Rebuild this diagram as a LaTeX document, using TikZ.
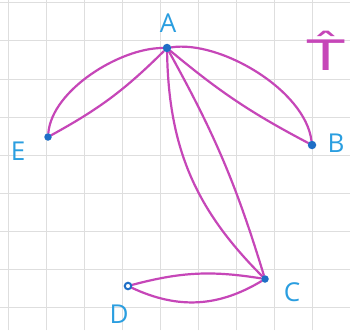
\documentclass[tikz,border=0pt]{standalone}
\usepackage{fontspec}
\setmainfont{Open Sans}
\newfontfamily\dejavu{DejaVu Sans}
\definecolor{mag}{HTML}{C646B8}
\definecolor{dotblue}{HTML}{1E6EC6}
\definecolor{labblue}{HTML}{2A9EE0}
\definecolor{gridgray}{HTML}{DEDEDE}
\pgfdeclarelayer{bg}
\pgfsetlayers{bg,main}
\begin{document}
\begin{tikzpicture}[x=1pt,y=1pt,
  edge/.style={draw=mag, line width=2.2pt, line cap=round},
  dot/.style={circle, fill=dotblue, inner sep=0pt, minimum size=8.5pt},
  lab/.style={text=labblue, font=\fontsize{26}{26}\selectfont, inner sep=0pt},
  gridline/.style={draw=gridgray, line width=1pt}]
\useasboundingbox (0,0) rectangle (350,330);
\node[dot] (A) at (167,282) {};
\node[dot, minimum size=7.5pt] (E) at (48,193) {};
\node[dot] (B) at (312,185) {};
\node[dot, minimum size=7.5pt] (C) at (265,51) {};
\node[dot, fill=white, draw=dotblue, line width=2pt, minimum size=6.5pt] (D) at (128,44) {};
\begin{pgfonlayer}{bg}
\fill[white] (0,0) rectangle (350,330);
\foreach \x in {8,46,...,350} \draw[gridline] (\x,0) -- (\x,330);
\foreach \y in {23,61,...,327} \draw[gridline] (0,\y) -- (350,\y);
\draw[edge] (E) .. controls (52,240) and (120,282) .. (A);
\draw[edge] (E) to[bend right=8] (A);
\draw[edge] (A) .. controls (220,290) and (305,240) .. (B);
\draw[edge] (A) to[bend right=6] (B);
\draw[edge] (A) to[bend right=22] (C);
\draw[edge] (A) to[bend left=6] (C);
\draw[edge] (D) to[bend left=12] (C);
\draw[edge] (D) to[bend right=28] (C);
\end{pgfonlayer}
\node[lab] (lA) at (168,307) {A};
\node[lab] (lE) at (18,179) {E};
\node[lab] (lB) at (336,187) {B};
\node[lab] (lC) at (292,38) {C};
\node[lab] (lD) at (119,16) {D};
\node[text=mag, font=\dejavu\fontsize{42}{42}\selectfont, inner sep=0pt, xscale=1.45] (T) at (326,279) {T̂};
\end{tikzpicture}
\end{document}
